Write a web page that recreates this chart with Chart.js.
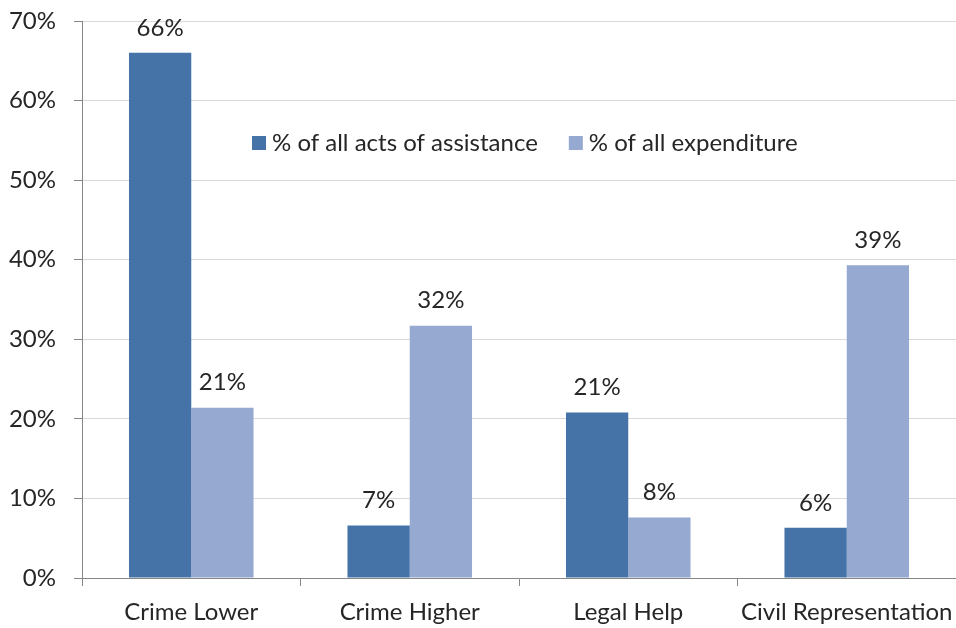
<!DOCTYPE html>
<html>
<head>
<meta charset="utf-8">
<script src="https://cdn.jsdelivr.net/npm/chart.js@4"></script>
<style>
  html, body { margin: 0; padding: 0; background: #fff; }
  #wrap { width: 956px; height: 628px; }
</style>
</head>
<body>
<div id="wrap"><canvas id="grafico"></canvas></div>
<script>
const categorias = ['Crime Lower', 'Crime Higher', 'Legal Help', 'Civil Representation'];
const atos = [66.0, 6.6, 20.8, 6.3];
const gastos = [21.4, 31.7, 7.6, 39.3];
const nomesSeries = ['% of all acts of assistance', '% of all expenditure'];
const ticksY = [0, 10, 20, 30, 40, 50, 60, 70];

const corEscura = '#4572A7';
const corClara = '#95A9D1';
const fonte = 'Lato, "Open Sans", sans-serif';
const tamFonte = 24;

// rótulos de valor acima de cada barra
const rotulos = {
  id: 'rotulos',
  afterDatasetsDraw(chart) {
    const ctx = chart.ctx;
    ctx.save();
    ctx.font = tamFonte + 'px ' + fonte;
    ctx.fillStyle = '#262626';
    ctx.textAlign = 'center';
    ctx.textBaseline = 'middle';
    chart.data.datasets.forEach((ds, i) => {
      chart.getDatasetMeta(i).data.forEach((bar, j) => {
        ctx.fillText(Math.round(ds.data[j]) + '%', bar.x, bar.y - 25);
      });
    });
    ctx.restore();
  }
};

// legenda dentro da área do gráfico
const legenda = {
  id: 'legenda',
  afterDraw(chart) {
    const ctx = chart.ctx;
    const area = chart.chartArea;
    const y = area.top + 122;
    let x = area.left + 170;
    ctx.save();
    ctx.font = tamFonte + 'px ' + fonte;
    ctx.textBaseline = 'middle';
    chart.data.datasets.forEach(ds => {
      ctx.fillStyle = ds.backgroundColor;
      ctx.fillRect(x, y - 7, 14, 14);
      ctx.fillStyle = '#262626';
      ctx.fillText(ds.label, x + 20, y);
      x += 20 + ctx.measureText(ds.label).width + 31;
    });
    ctx.restore();
  }
};

new Chart(document.getElementById('grafico'), {
  type: 'bar',
  data: {
    labels: categorias,
    datasets: [
      { label: nomesSeries[0], data: atos, backgroundColor: corEscura },
      { label: nomesSeries[1], data: gastos, backgroundColor: corClara }
    ]
  },
  options: {
    responsive: true,
    maintainAspectRatio: false,
    animation: false,
    layout: { padding: 0 },
    datasets: { bar: { barPercentage: 1, categoryPercentage: 0.57 } },
    plugins: {
      legend: { display: false },
      tooltip: { enabled: false }
    },
    scales: {
      x: {
        afterFit: s => { s.height = 50; s.paddingLeft = 0; s.paddingRight = 0; },
        grid: { offset: true, drawOnChartArea: false, tickLength: 8, color: '#868686' },
        border: { color: '#868686' },
        ticks: { color: '#262626', padding: 12, font: { family: fonte, size: tamFonte } }
      },
      y: {
        min: 0,
        max: 70,
        afterFit: s => { s.width = 82; s.paddingTop = 21; s.paddingBottom = 0; },
        afterBuildTicks: s => { s.ticks = ticksY.map(v => ({ value: v })); },
        grid: { color: '#D9D9D9', tickColor: '#868686', tickLength: 8 },
        border: { color: '#868686' },
        ticks: {
          color: '#262626',
          padding: 18,
          font: { family: fonte, size: tamFonte },
          callback: v => v + '%'
        }
      }
    }
  },
  plugins: [rotulos, legenda]
});
</script>
</body>
</html>
